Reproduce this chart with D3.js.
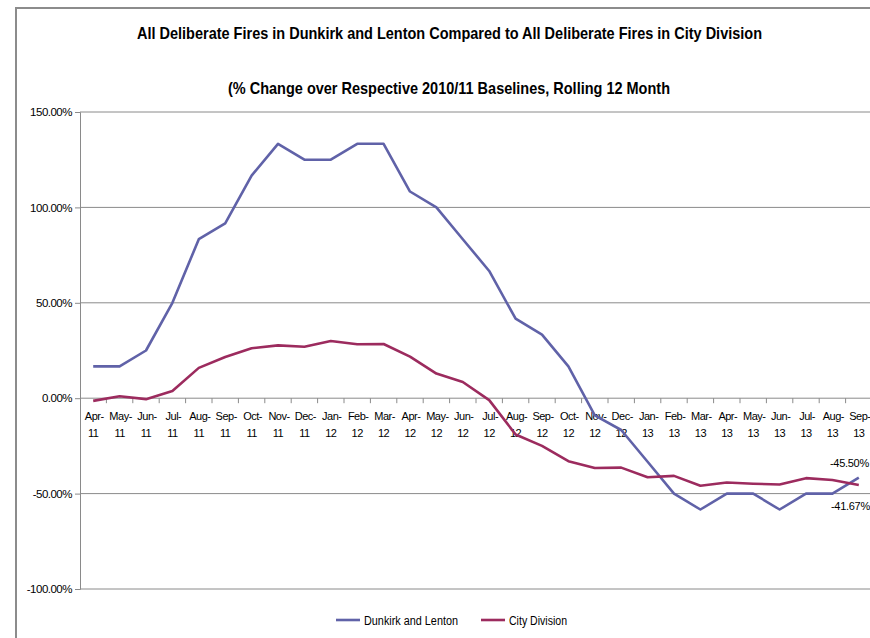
<!DOCTYPE html>
<html>
<head>
<meta charset="utf-8">
<script src="https://cdn.jsdelivr.net/npm/d3@7"></script>
<style>
  html, body { margin: 0; padding: 0; background: #fff; }
  svg { display: block; }
  text { font-family: "Liberation Sans Narrow", "Arial Narrow", "Liberation Sans", sans-serif; fill: #000; }
</style>
</head>
<body>
<svg id="chart" width="870" height="638"></svg>
<script>
const categories = ["Apr-11","May-11","Jun-11","Jul-11","Aug-11","Sep-11","Oct-11","Nov-11","Dec-11","Jan-12","Feb-12","Mar-12","Apr-12","May-12","Jun-12","Jul-12","Aug-12","Sep-12","Oct-12","Nov-12","Dec-12","Jan-13","Feb-13","Mar-13","Apr-13","May-13","Jun-13","Jul-13","Aug-13","Sep-13"];
const dunkirkLenton = [16.67,16.67,25,50,83.33,91.67,116.67,133.33,125,125,133.33,133.33,108.33,100,83.33,66.67,41.67,33.33,16.67,-9,-16.67,-33.33,-50,-58.33,-50,-50,-58.33,-50,-50,-41.67];
const cityDivision = [-1.4,1.0,-0.5,3.8,15.9,21.6,26.2,27.7,27.0,30.0,28.3,28.4,21.8,12.9,8.5,-1.0,-19.0,-25.0,-33.0,-36.6,-36.4,-41.4,-40.7,-45.9,-44.2,-44.8,-45.2,-41.9,-42.9,-45.5];
const yTicks = [150,100,50,0,-50,-100];
const seriesNames = ["Dunkirk and Lenton","City Division"];
const seriesColors = ["#6062A8","#9C2B5E"];
const titleLines = ["All Deliberate Fires in Dunkirk and Lenton Compared to All Deliberate Fires in City Division","(% Change over Respective 2010/11 Baselines, Rolling 12 Month"];
const endLabels = ["-45.50%","-41.67%"];

const svg = d3.select("#chart");
const fmt = d3.formatLocale({decimal:".", thousands:",", grouping:[3], currency:["",""], minus:"-"}).format(".2f");

// outer chart border
svg.append("path").attr("d","M16,638 V8 H870").attr("fill","none").attr("stroke","#8c8c8c").attr("stroke-width",2);

// titles
svg.append("text").attr("x",137).attr("y",39)
  .attr("textLength",625).attr("lengthAdjust","spacingAndGlyphs")
  .style("font-size","17px").style("font-weight","bold").text(titleLines[0]);
svg.append("text").attr("x",228).attr("y",94)
  .attr("textLength",442).attr("lengthAdjust","spacingAndGlyphs")
  .style("font-size","17px").style("font-weight","bold").text(titleLines[1]);

const x = d3.scaleBand().domain(categories).range([80, 872]).padding(0);
const y = d3.scaleLinear().domain([-100,150]).range([589,112]);
const cx = d => x(d) + x.bandwidth()/2;

// gridlines
svg.append("g").selectAll("line").data(yTicks).join("line")
  .attr("x1",80).attr("x2",870).attr("y1",d=>y(d)).attr("y2",d=>y(d))
  .attr("stroke","#8a8a8a").attr("stroke-width",1);

// y axis
const yAxis = d3.axisLeft(y).tickValues(yTicks).tickSize(5).tickPadding(3)
  .tickFormat(d => fmt(d) + "%");
const gy = svg.append("g").attr("transform","translate(80,0)").call(yAxis);
gy.select(".domain").attr("stroke","#8a8a8a");
gy.selectAll(".tick line").attr("stroke","#8a8a8a");
gy.selectAll(".tick text").style("font-size","11.5px").style("letter-spacing","-0.5px").attr("fill","#000");

// x axis ticks at category boundaries, on zero line
const bounds = categories.map(c => x(c)).concat([x.range()[1]]);
svg.append("g").selectAll("line").data(bounds.slice(1)).join("line")
  .attr("x1",d=>d).attr("x2",d=>d).attr("y1",y(0)).attr("y2",y(0)+5)
  .attr("stroke","#8a8a8a").attr("stroke-width",1);

const xl = svg.append("g").selectAll("text").data(categories).join("text")
  .attr("text-anchor","middle").style("font-size","11px").style("letter-spacing","-0.5px");
xl.append("tspan").attr("x",d=>cx(d)+1).attr("y",y(0)+22).text(d=>d.split("-")[0]+"-");
xl.append("tspan").attr("x",d=>cx(d)).attr("y",y(0)+39).text(d=>d.split("-")[1]);

// lines
const line = d3.line().x((d,i)=>cx(categories[i])).y(d=>y(d));
[dunkirkLenton, cityDivision].forEach((s,i)=>{
  svg.append("path").datum(s).attr("d",line).attr("fill","none")
    .attr("stroke",seriesColors[i]).attr("stroke-width",2.6).attr("stroke-linejoin","round");
});

// end labels
svg.append("text").attr("x",830).attr("y",467).style("font-size","11px").style("letter-spacing","-0.3px").text(endLabels[0]);
svg.append("text").attr("x",831).attr("y",510).style("font-size","11px").style("letter-spacing","-0.3px").text(endLabels[1]);

// legend
const legX = [336, 481];
const legLen = [94, 58];
seriesNames.forEach((n,i)=>{
  svg.append("line").attr("x1",legX[i]).attr("x2",legX[i]+24).attr("y1",620).attr("y2",620)
    .attr("stroke",seriesColors[i]).attr("stroke-width",2.6);
  svg.append("text").attr("x",legX[i]+28).attr("y",624.5)
    .attr("textLength",legLen[i]).attr("lengthAdjust","spacingAndGlyphs")
    .style("font-size","12.5px").text(n);
});
</script>
</body>
</html>
